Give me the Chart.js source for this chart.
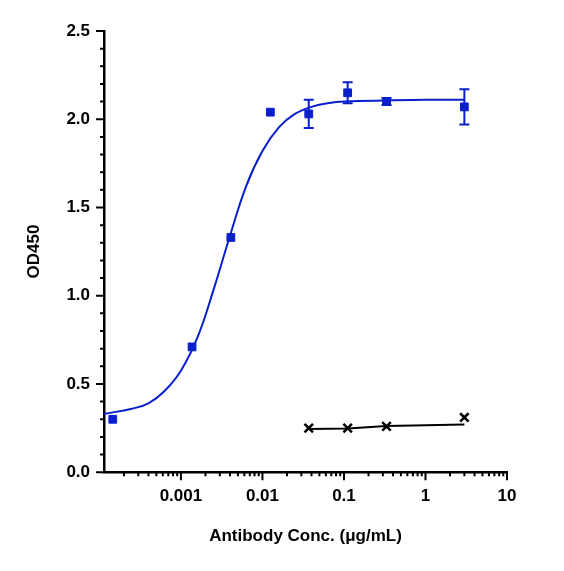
<!DOCTYPE html><html><head><script src="https://cdn.jsdelivr.net/npm/chart.js@4"></script></head><body style="margin:0;background:#fff">
<canvas id="c" width="564" height="571" style="width:564px;height:571px;display:block"></canvas>
<script>
const blueX=[0.000146,0.00137,0.0041,0.0125,0.037,0.111,0.333,3.0];
const blueY=[0.30,0.71,1.33,2.04,2.03,2.15,2.10,2.07];
const blueErr=[0,0,0,0,0.08,0.06,0.02,0.10];
const fitX=[0.000114,0.00025,0.0004,0.00063,0.001,0.0016,0.0025,0.004,0.0063,0.01,0.016,0.025,0.04,0.063,0.1,1,3];
const fitY=[0.33,0.36,0.39,0.46,0.575,0.765,1.03,1.34,1.62,1.82,1.955,2.03,2.07,2.09,2.10,2.11,2.11];
const blackX=[0.037,0.111,0.333,3.0];
const blackY=[0.25,0.25,0.26,0.31];
const blackFit=[0.245,0.248,0.262,0.27];
const xTicks=[0.001,0.01,0.1,1,10];
const yTicks=[0,0.5,1.0,1.5,2.0,2.5];
const xy=(a,b)=>a.map((v,i)=>({x:v,y:b[i]}));
const F='"Liberation Sans", Arial, sans-serif';
const minor={id:'minor',afterDraw(ch){const c=ch.ctx,x=ch.scales.x,y=ch.scales.y;c.save();c.strokeStyle='#000';c.lineWidth=2;
 c.beginPath();
 for(let d=-4;d<1;d++)for(let m=1;m<10;m++){const v=m*Math.pow(10,d);if(v<x.min||v>x.max)continue;const p=x.getPixelForValue(v);const L=(m==1)?8:4;c.moveTo(p,y.bottom);c.lineTo(p,y.bottom+L);}
 const pe=x.getPixelForValue(10);c.moveTo(pe,y.bottom);c.lineTo(pe,y.bottom+8);
 for(let i=0;i<=25;i++){const v=i/10;const p=y.getPixelForValue(v);const L=(i%5==0)?8:4;c.moveTo(x.left,p);c.lineTo(x.left-L,p);}
 c.stroke();
 c.strokeStyle='#0a1fcc';
 blueX.forEach((v,i)=>{if(!blueErr[i])return;const px=x.getPixelForValue(v),t=y.getPixelForValue(blueY[i]+blueErr[i]),b=y.getPixelForValue(blueY[i]-blueErr[i]);c.beginPath();c.moveTo(px,t);c.lineTo(px,b);c.moveTo(px-5,t);c.lineTo(px+5,t);c.moveTo(px-5,b);c.lineTo(px+5,b);c.stroke();});
 c.restore();}};
new Chart(document.getElementById('c'),{type:'scatter',data:{datasets:[
 {data:xy(blueX,blueY),pointStyle:'rect',pointRadius:5.5,backgroundColor:'#0a1fcc',borderColor:'#0a1fcc',showLine:false},
 {data:xy(fitX,fitY),showLine:true,pointRadius:0,borderColor:'#0a1fcc',borderWidth:2,tension:0.4},
 {data:xy(blackX,blackFit),showLine:true,pointRadius:0,borderColor:'#000',borderWidth:2},
 {data:xy(blackX,blackY),pointStyle:'crossRot',pointRadius:6,borderColor:'#000',borderWidth:2.5,showLine:false}
]},plugins:[minor],options:{responsive:false,devicePixelRatio:1,animation:false,layout:{padding:{left:20,right:57,top:31,bottom:20}},
plugins:{legend:{display:false},tooltip:{enabled:false}},
scales:{x:{type:'logarithmic',min:0.000114,max:10,afterBuildTicks:s=>{s.ticks=xTicks.map(v=>({value:v}));},
 ticks:{color:'#000',font:{family:F,size:17,weight:'bold'},callback:v=>String(v),maxRotation:0,padding:14},
 grid:{display:false,drawTicks:false},border:{color:'#000',width:2.5},
 title:{display:true,text:'Antibody Conc. (μg/mL)',color:'#000',font:{family:F,size:17,weight:'bold'},padding:{top:6}}},
 y:{min:0,max:2.5,afterBuildTicks:s=>{s.ticks=yTicks.map(v=>({value:v}));},
 ticks:{color:'#000',font:{family:F,size:17,weight:'bold'},callback:v=>v.toFixed(1),padding:14},
 grid:{display:false,drawTicks:false},border:{color:'#000',width:2.5},
 title:{display:true,text:'OD450',color:'#000',font:{family:F,size:17,weight:'bold'},padding:{bottom:8}}}}}});
</script></body></html>
